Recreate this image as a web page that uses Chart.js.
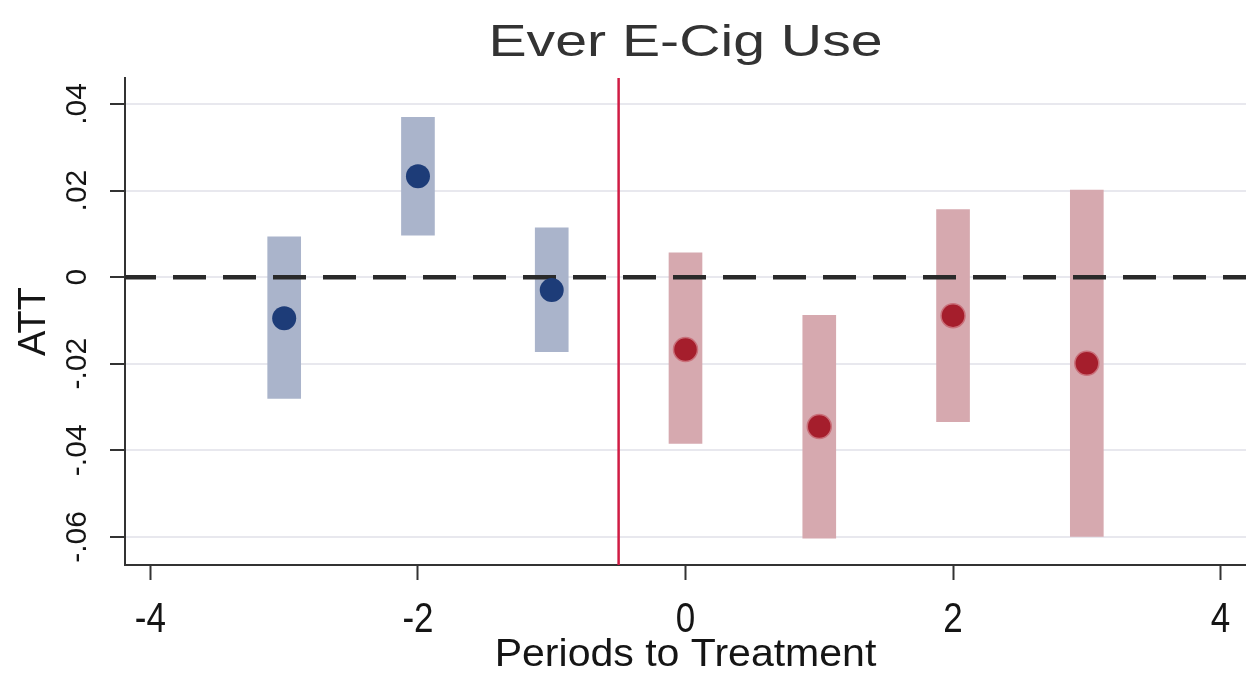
<!DOCTYPE html>
<html>
<head>
<meta charset="utf-8">
<script src="https://cdn.jsdelivr.net/npm/chart.js@4.4.1/dist/chart.umd.min.js"></script>
<style>
  html, body { margin: 0; padding: 0; background: #fff; }
  #wrap { width: 1246px; height: 677px; }
</style>
</head>
<body>
<div id="wrap"><canvas id="chart" width="1246" height="677"></canvas></div>
<script>
const chartTitle = "Ever E-Cig Use";
const xTitle = "Periods to Treatment";
const yTitle = "ATT";

// pre-treatment leads
const prePeriods = [-3, -2, -1];
const preEst = [-0.0095, 0.0233, -0.0030];
const preLow = [-0.0280, 0.0097, -0.0172];
const preHigh = [0.0093, 0.0369, 0.0114];

// post-treatment lags
const postPeriods = [0, 1, 2, 3];
const postEst = [-0.0167, -0.0345, -0.0089, -0.0199];
const postLow = [-0.0384, -0.0603, -0.0334, -0.0599];
const postHigh = [0.0056, -0.0088, 0.0156, 0.0201];

const xTicks = [-4, -2, 0, 2, 4];
const xTickLabels = ["-4", "-2", "0", "2", "4"];
const yTicks = [-0.06, -0.04, -0.02, 0, 0.02, 0.04];
const yTickLabels = ["-.06", "-.04", "-.02", "0", ".02", ".04"];
const treatmentAt = -0.5;

const FONT = "'Liberation Sans', Arial, sans-serif";

function points(xs, ys) {
  return xs.map((x, i) => ({ x: x, y: ys[i] }));
}
function ranges(xs, lo, hi) {
  return xs.map((x, i) => ({ x: x, y: [lo[i], hi[i]] }));
}

const refLines = {
  id: "refLines",
  afterDatasetDraw(chart, args) {
    // zero line goes over the bars, under the dots
    if (args.index !== 2) return;
    const { ctx, chartArea } = chart;
    const y0 = chart.scales.y.getPixelForValue(0);
    ctx.save();
    ctx.strokeStyle = "#2a2a2a";
    ctx.lineWidth = 4.5;
    ctx.setLineDash([33, 17]);
    ctx.lineDashOffset = 2;
    ctx.beginPath();
    ctx.moveTo(chartArea.left, y0);
    ctx.lineTo(chartArea.right, y0);
    ctx.stroke();
    ctx.restore();
  },
  afterDatasetsDraw(chart) {
    const { ctx, chartArea } = chart;
    const xv = chart.scales.x.getPixelForValue(treatmentAt);
    ctx.save();
    ctx.strokeStyle = "#d01c44";
    ctx.lineWidth = 2.5;
    ctx.beginPath();
    ctx.moveTo(xv, chartArea.top);
    ctx.lineTo(xv, chartArea.bottom);
    ctx.stroke();
    ctx.restore();
  },
  afterDraw(chart) {
    const { ctx, chartArea } = chart;
    const xs = chart.scales.x;
    const ys = chart.scales.y;
    const midX = (chartArea.left + chartArea.right) / 2;
    ctx.save();
    ctx.fillStyle = "#151515";
    ctx.textAlign = "center";
    ctx.textBaseline = "alphabetic";

    // rotated y tick labels
    ctx.font = "30px " + FONT;
    ys.ticks.forEach(t => {
      ctx.save();
      ctx.translate(86, ys.getPixelForValue(t.value));
      ctx.rotate(-Math.PI / 2);
      ctx.fillText(yTickLabels[yTicks.indexOf(t.value)], 0, 0);
      ctx.restore();
    });

    // x tick labels, a bit taller than wide like the original
    ctx.font = "35px " + FONT;
    xs.ticks.forEach(t => {
      ctx.save();
      ctx.translate(xs.getPixelForValue(t.value), 632);
      ctx.scale(1, 1.2);
      ctx.fillText(xTickLabels[xTicks.indexOf(t.value)], 0, 0);
      ctx.restore();
    });

    // x axis title
    ctx.font = "38px " + FONT;
    ctx.save();
    ctx.translate(midX, 666);
    ctx.scale(1.08, 1);
    ctx.fillText(xTitle, 0, 0);
    ctx.restore();

    // chart title over plot region
    ctx.fillStyle = "#333";
    ctx.font = "44px " + FONT;
    ctx.save();
    ctx.translate(midX, 56);
    ctx.scale(1.3, 1);
    ctx.fillText(chartTitle, 0, 0);
    ctx.restore();
    ctx.restore();
  }
};

new Chart(document.getElementById("chart"), {
  type: "bar",
  data: {
    datasets: [
      {
        type: "scatter",
        data: points(prePeriods, preEst),
        backgroundColor: "#1d3c78",
        borderColor: "#1d3c78",
        pointRadius: 12,
        borderWidth: 0,
        order: 0
      },
      {
        type: "scatter",
        data: points(postPeriods, postEst),
        backgroundColor: "#a51e2c",
        borderColor: "#c9707a",
        pointRadius: 12,
        borderWidth: 1.5,
        order: 0
      },
      {
        data: ranges(prePeriods, preLow, preHigh),
        backgroundColor: "#aab4cb",
        barThickness: 33,
        grouped: false,
        borderSkipped: false,
        order: 1
      },
      {
        data: ranges(postPeriods, postLow, postHigh),
        backgroundColor: "#d6a9af",
        barThickness: 33,
        grouped: false,
        borderSkipped: false,
        order: 1
      }
    ]
  },
  options: {
    responsive: false,
    animation: false,
    layout: { autoPadding: false, padding: { top: 78, left: 0, right: 0, bottom: 0 } },
    plugins: {
      legend: { display: false },
      tooltip: { enabled: false }
    },
    scales: {
      x: {
        type: "linear",
        offset: false,
        min: -4.19,
        max: 4.19,
        afterBuildTicks: s => { s.ticks = xTicks.map(v => ({ value: v })); },
        afterFit: s => { s.height = 112; s.paddingLeft = 0; s.paddingRight = 0; },
        ticks: { display: false },
        grid: {
          offset: false,
          drawOnChartArea: false,
          drawTicks: true,
          tickLength: 15,
          tickColor: "#333",
          tickWidth: 2
        },
        border: { color: "#333", width: 2 }
      },
      y: {
        type: "linear",
        min: -0.0665,
        max: 0.046,
        afterBuildTicks: s => { s.ticks = yTicks.map(v => ({ value: v })); },
        afterFit: s => { s.width = 125; s.paddingTop = 0; s.paddingBottom = 0; },
        ticks: { display: false },
        grid: {
          color: "#e8e8ee",
          lineWidth: 2,
          drawTicks: true,
          tickLength: 15,
          tickColor: "#333",
          tickWidth: 2
        },
        border: { color: "#333", width: 2 },
        title: {
          display: true,
          text: yTitle,
          color: "#151515",
          font: { family: FONT, size: 38 },
          padding: { top: 12, bottom: 0 }
        }
      }
    }
  },
  plugins: [refLines]
});
</script>
</body>
</html>
